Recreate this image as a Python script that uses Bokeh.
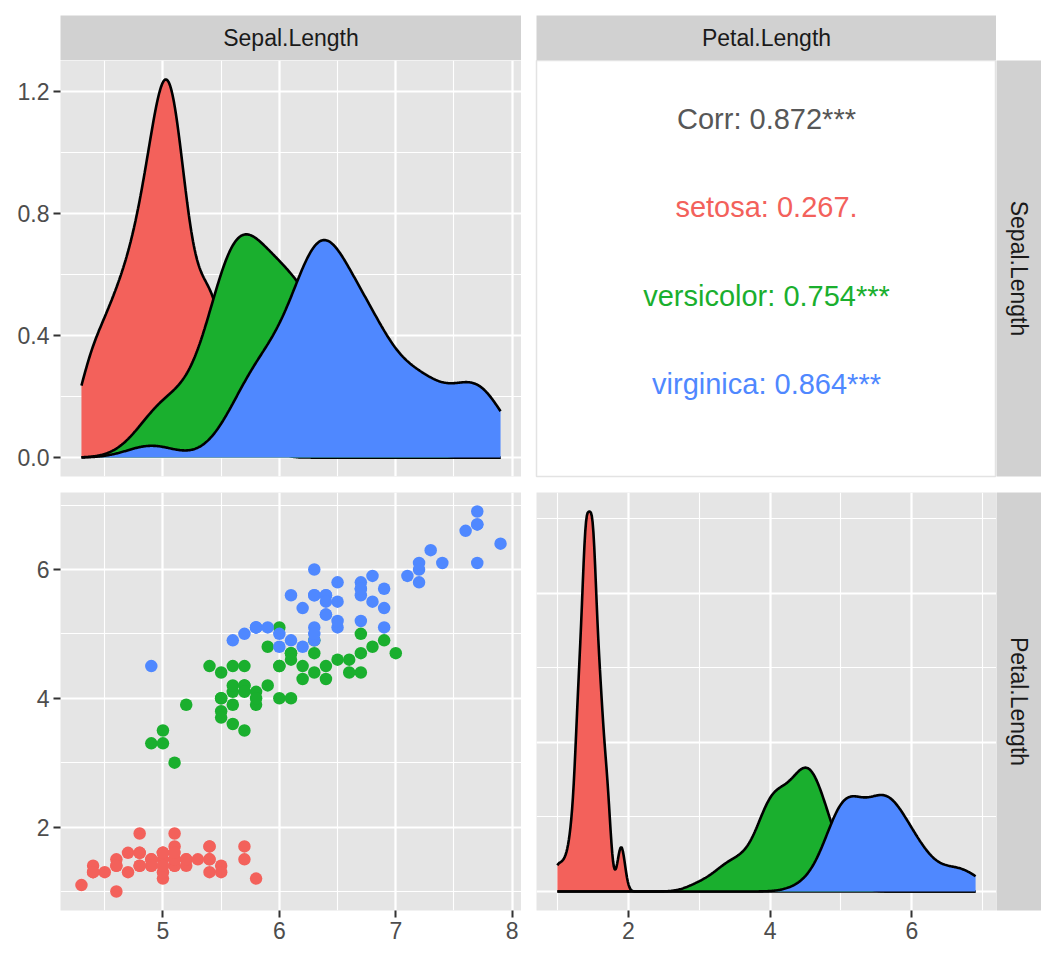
import numpy as np
from math import pi
from bokeh.plotting import figure
from bokeh.layouts import column, row
from bokeh.models import ColumnDataSource, FixedTicker, LinearAxis, Range1d, NumeralTickFormatter
from bokeh.embed import file_html
from bokeh.resources import INLINE
from bokeh.core.properties import value

# ---------------- data (iris) ----------------
species = ["setosa", "versicolor", "virginica"]
species_colors = ["#F3615B", "#1AAF2E", "#4F88FF"]

sepal_setosa = [5.1, 4.9, 4.7, 4.6, 5.0, 5.4, 4.6, 5.0, 4.4, 4.9,
                5.4, 4.8, 4.8, 4.3, 5.8, 5.7, 5.4, 5.1, 5.7, 5.1,
                5.4, 5.1, 4.6, 5.1, 4.8, 5.0, 5.0, 5.2, 5.2, 4.7,
                4.8, 5.4, 5.2, 5.5, 4.9, 5.0, 5.5, 4.9, 4.4, 5.1,
                5.0, 4.5, 4.4, 5.0, 5.1, 4.8, 5.1, 4.6, 5.3, 5.0]
petal_setosa = [1.4, 1.4, 1.3, 1.5, 1.4, 1.7, 1.4, 1.5, 1.4, 1.5,
                1.5, 1.6, 1.4, 1.1, 1.2, 1.5, 1.3, 1.4, 1.7, 1.5,
                1.7, 1.5, 1.0, 1.7, 1.9, 1.6, 1.6, 1.5, 1.4, 1.6,
                1.6, 1.5, 1.5, 1.4, 1.5, 1.2, 1.3, 1.4, 1.3, 1.5,
                1.3, 1.3, 1.3, 1.6, 1.9, 1.4, 1.6, 1.4, 1.5, 1.4]
sepal_versicolor = [7.0, 6.4, 6.9, 5.5, 6.5, 5.7, 6.3, 4.9, 6.6, 5.2,
                    5.0, 5.9, 6.0, 6.1, 5.6, 6.7, 5.6, 5.8, 6.2, 5.6,
                    5.9, 6.1, 6.3, 6.1, 6.4, 6.6, 6.8, 6.7, 6.0, 5.7,
                    5.5, 5.5, 5.8, 6.0, 5.4, 6.0, 6.7, 6.3, 5.6, 5.5,
                    5.5, 6.1, 5.8, 5.0, 5.6, 5.7, 5.7, 6.2, 5.1, 5.7]
petal_versicolor = [4.7, 4.5, 4.9, 4.0, 4.6, 4.5, 4.7, 3.3, 4.6, 3.9,
                    3.5, 4.2, 4.0, 4.7, 3.6, 4.4, 4.5, 4.1, 4.5, 3.9,
                    4.8, 4.0, 4.9, 4.7, 4.3, 4.4, 4.8, 5.0, 4.5, 3.5,
                    3.8, 3.7, 3.9, 5.1, 4.5, 4.5, 4.7, 4.4, 4.1, 4.0,
                    4.4, 4.6, 4.0, 3.3, 4.2, 4.2, 4.2, 4.3, 3.0, 4.1]
sepal_virginica = [6.3, 5.8, 7.1, 6.3, 6.5, 7.6, 4.9, 7.3, 6.7, 7.2,
                   6.5, 6.4, 6.8, 5.7, 5.8, 6.4, 6.5, 7.7, 7.7, 6.0,
                   6.9, 5.6, 7.7, 6.3, 6.7, 7.2, 6.2, 6.1, 6.4, 7.2,
                   7.4, 7.9, 6.4, 6.3, 6.1, 7.7, 6.3, 6.4, 6.0, 6.9,
                   6.7, 6.9, 5.8, 6.8, 6.7, 6.7, 6.3, 6.5, 6.2, 5.9]
petal_virginica = [6.0, 5.1, 5.9, 5.6, 5.8, 6.6, 4.5, 6.3, 5.8, 6.1,
                   5.1, 5.3, 5.5, 5.0, 5.1, 5.3, 5.5, 6.7, 6.9, 5.0,
                   5.7, 4.9, 6.7, 4.9, 5.7, 6.0, 4.8, 4.9, 5.6, 5.8,
                   6.1, 6.4, 5.6, 5.1, 5.6, 6.1, 5.6, 5.5, 4.8, 5.4,
                   5.6, 5.1, 5.1, 5.9, 5.7, 5.2, 5.0, 5.2, 5.4, 5.1]

sepal_by_species = [sepal_setosa, sepal_versicolor, sepal_virginica]
petal_by_species = [petal_setosa, petal_versicolor, petal_virginica]

var_names = ["Sepal.Length", "Petal.Length"]
cor_labels = ["Corr: 0.872***", "setosa: 0.267.", "versicolor: 0.754***", "virginica: 0.864***"]
cor_colors = ["#575757"] + species_colors

sepal_ticks = [5, 6, 7, 8]
sepal_minor = [4.5, 5.5, 6.5, 7.5]
petal_ticks = [2, 4, 6]
petal_minor = [1, 3, 5, 7]
dens1_ticks = [0.0, 0.4, 0.8, 1.2]
dens1_minor = [0.2, 0.6, 1.0]
dens2_ticks = [0, 1, 2]
dens2_minor = [0.5, 1.5, 2.5]

# ---------------- style ----------------
FONT = "Liberation Sans"
PANEL_BG = "#E5E5E5"
STRIP_BG = "#D1D1D1"
TICK_COL = "#333333"
LABEL_COL = "#4D4D4D"
STRIP_TXT = "#1A1A1A"
AX_FS = "23px"
DENS_LW = 2.6


def bw_nrd0(x):
    x = np.asarray(x, dtype=float)
    sd = x.std(ddof=1)
    q75, q25 = np.percentile(x, [75, 25])
    lo = min(sd, (q75 - q25) / 1.34)
    return 0.9 * lo * len(x) ** -0.2


def kde(x, grid):
    x = np.asarray(x, dtype=float)
    bw = bw_nrd0(x)
    z = (grid[:, None] - x[None, :]) / bw
    return np.exp(-0.5 * z ** 2).sum(axis=1) / (len(x) * bw * np.sqrt(2 * np.pi))


def expand(lo, hi, mult=0.05):
    d = (hi - lo) * mult
    return Range1d(lo - d, hi + d)


def base_fig(fw, fh, xr, yr, left, bottom, top=0, bg=PANEL_BG):
    p = figure(frame_width=fw, frame_height=fh, x_range=xr, y_range=yr, title=None,
               min_border_left=left, min_border_right=0, min_border_top=top,
               min_border_bottom=bottom, x_axis_location=None, y_axis_location=None,
               toolbar_location=None, output_backend="svg",
               background_fill_color=bg, border_fill_color="white",
               outline_line_color=None)
    return p


def style_grid(grid, ticks, minor):
    grid.ticker = FixedTicker(ticks=ticks, minor_ticks=minor)
    grid.grid_line_color = "white"
    grid.grid_line_width = 2.2
    grid.minor_grid_line_color = "white"
    grid.minor_grid_line_width = 1.1


def add_axis(p, side, ticks, fmt):
    ax = LinearAxis(ticker=FixedTicker(ticks=ticks), formatter=NumeralTickFormatter(format=fmt))
    ax.axis_line_color = None
    ax.major_tick_line_color = TICK_COL
    ax.major_tick_line_width = 2
    ax.major_tick_out = 7
    ax.major_tick_in = 0
    ax.minor_tick_line_color = None
    ax.major_label_text_font = FONT
    ax.major_label_text_font_size = AX_FS
    ax.major_label_text_color = LABEL_COL
    ax.major_label_standoff = 4
    p.add_layout(ax, side)
    return ax


def strip(fw, fh, left, top, bottom, label, vertical):
    s = base_fig(fw, fh, Range1d(0, 1), Range1d(0, 1), left, bottom, top=top, bg=STRIP_BG)
    s.grid.visible = False
    s.text(x=[0.5], y=[0.5], text=[label], angle=(-pi / 2 if vertical else 0),
           text_font=value(FONT), text_font_size=AX_FS, text_color=STRIP_TXT,
           text_align="center", text_baseline="middle")
    return s


all_sepal = np.concatenate([np.asarray(v) for v in sepal_by_species])
all_petal = np.concatenate([np.asarray(v) for v in petal_by_species])

W_L, W_R = 461, 460
H_T, H_B = 416, 418

# ---------------- top-left: Sepal.Length density ----------------
gx1 = np.linspace(all_sepal.min(), all_sepal.max(), 512)
d1 = [kde(v, gx1) for v in sepal_by_species]
m1 = max(d.max() for d in d1)
pA = base_fig(W_L, H_T, expand(all_sepal.min(), all_sepal.max()), expand(0, m1), 60, 16)
style_grid(pA.xgrid, sepal_ticks, sepal_minor)
style_grid(pA.ygrid, dens1_ticks, dens1_minor)
for d, col in zip(d1, species_colors):
    src = ColumnDataSource(dict(x=gx1, y=d))
    pA.varea(x="x", y1=0, y2="y", source=src, fill_color=col, fill_alpha=1)
    pA.line(x="x", y="y", source=src, line_color="black", line_width=DENS_LW)
add_axis(pA, "left", dens1_ticks, "0.0")

# ---------------- top-right: correlation text ----------------
pB = base_fig(W_R, H_T, Range1d(0, 1), Range1d(1, 0), 15, 16, bg="white")
pB.grid.visible = False
pB.outline_line_color = "#E3E3E3"
pB.outline_line_width = 1.5
ypos = [0.140 + 0.2125 * i for i in range(len(cor_labels))]
pB.text(x=[0.5] * len(cor_labels), y=ypos, text=cor_labels, text_color=cor_colors,
        text_font=value(FONT), text_font_size="29px", text_align="center",
        text_baseline="middle")

# ---------------- bottom-left: scatter ----------------
pC = base_fig(W_L, H_B, expand(all_sepal.min(), all_sepal.max()),
              expand(all_petal.min(), all_petal.max()), 60, 50)
style_grid(pC.xgrid, sepal_ticks, sepal_minor)
style_grid(pC.ygrid, petal_ticks, petal_minor)
for xs, ys, col in zip(sepal_by_species, petal_by_species, species_colors):
    pC.scatter(x=xs, y=ys, size=12.5, fill_color=col, line_color=None)
add_axis(pC, "left", petal_ticks, "0")
add_axis(pC, "below", sepal_ticks, "0")

# ---------------- bottom-right: Petal.Length density ----------------
gx2 = np.linspace(all_petal.min(), all_petal.max(), 512)
d2 = [kde(v, gx2) for v in petal_by_species]
m2 = max(d.max() for d in d2)
pD = base_fig(W_R, H_B, expand(all_petal.min(), all_petal.max()), expand(0, m2), 15, 50)
style_grid(pD.xgrid, petal_ticks, petal_minor)
style_grid(pD.ygrid, dens2_ticks, dens2_minor)
for d, col in zip(d2, species_colors):
    src = ColumnDataSource(dict(x=gx2, y=d))
    pD.varea(x="x", y1=0, y2="y", source=src, fill_color=col, fill_alpha=1)
    pD.line(x="x", y="y", source=src, line_color="black", line_width=DENS_LW)
add_axis(pD, "below", petal_ticks, "0")

# ---------------- strips ----------------
sT1 = strip(W_L, 45, 60, 15, 0, var_names[0], False)
sT2 = strip(W_R, 45, 15, 15, 0, var_names[1], False)
sR1 = strip(45, H_T, 0, 0, 16, var_names[0], True)
sR2 = strip(45, H_B, 0, 0, 50, var_names[1], True)

layout = column(row(sT1, sT2), row(pA, pB, sR1), row(pC, pD, sR2))

with open("out.html", "w") as f:
    f.write(file_html(layout, INLINE))
